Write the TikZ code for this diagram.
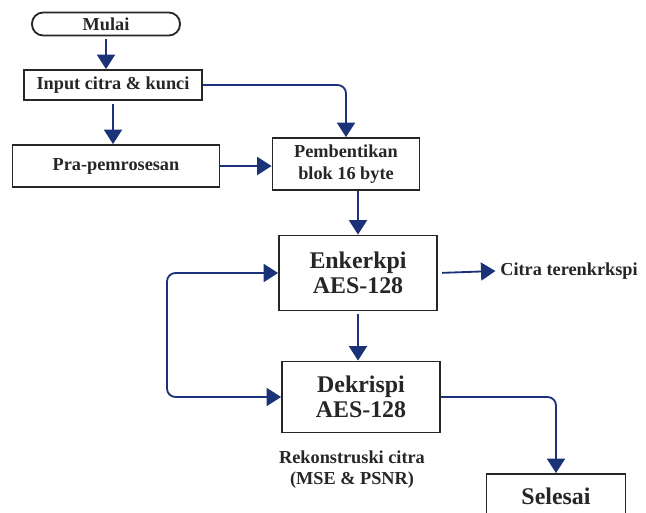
\documentclass[tikz,border=0pt]{standalone}
\usepackage{fontspec}
\setmainfont{Liberation Serif}
\usetikzlibrary{arrows.meta}
\definecolor{arrowBlue}{HTML}{1B3278}
\definecolor{boxGray}{HTML}{262626}

\begin{document}
\begin{tikzpicture}
[x=0.025cm,y=-0.025cm,
  boxDecorate/.style={shape=rectangle,draw=boxGray,line width=1.3pt,inner sep=2pt,
    font=\bfseries\fontsize{13}{16}\selectfont,text=boxGray,align=center},
  bigDecorate/.style={boxDecorate,font=\bfseries\fontsize{17}{18}\selectfont},
  textDecorate/.style={font=\bfseries\fontsize{13}{15}\selectfont,text=boxGray,align=center},
  lineDecorate/.style={-{Triangle[width=0.45cm,length=0.36cm]},draw=arrowBlue,
    line width=1.3pt,rounded corners=6pt}]
\useasboundingbox (0,0) rectangle (646,513);
%% nodes
\node (mulai) at (106,24) [boxDecorate,rounded corners=0.28cm,minimum width=3.7cm,minimum height=0.575cm] {Mulai};
\node (input) at (113,85) [boxDecorate,minimum width=4.45cm,minimum height=0.75cm] {Input citra \& kunci};
\node (pra) at (116,166) [boxDecorate,minimum width=5.175cm,minimum height=1.05cm] {Pra-pemrosesan};
\node (blok) at (346,164) [boxDecorate,minimum width=3.675cm,minimum height=1.3cm] {Pembentikan\\blok 16 byte};
\node (enk) at (358,273) [bigDecorate,minimum width=3.95cm,minimum height=1.875cm] {Enkerkpi\\AES-128};
\node (dek) at (361,397) [bigDecorate,minimum width=3.95cm,minimum height=1.775cm] {Dekrispi\\AES-128};
\node (selesai) at (556,496) [bigDecorate,minimum width=3.475cm,minimum height=1.1cm] {Selesai};
\node (citra) at (569,271) [textDecorate] {Citra terenkrkspi};
\node (rekon) at (352,470) [textDecorate] {Rekonstruski citra\\(MSE \& PSNR)};
\coordinate (loop) at (167,336);
%% edges
\foreach \startnode/\endnode in {mulai/input, input/pra, enk/dek}
{
  \draw[lineDecorate,shorten <=2pt] (\startnode.south) -- (\startnode.south |- \endnode.north);
}
\draw[lineDecorate] (input.east) -| (blok.north);
\draw[lineDecorate] (pra.east) -- (pra.east -| blok.west);
\draw[lineDecorate] (enk.north |- blok.south) -- (enk.north);
\draw[lineDecorate,shorten <=3pt] (enk.east) -- (citra.west);
\draw[lineDecorate] (loop) |- (enk.west);
\draw[lineDecorate] (loop) |- (dek.west);
\draw[lineDecorate] (dek.east) -| (selesai.north);
\end{tikzpicture}
\end{document}
